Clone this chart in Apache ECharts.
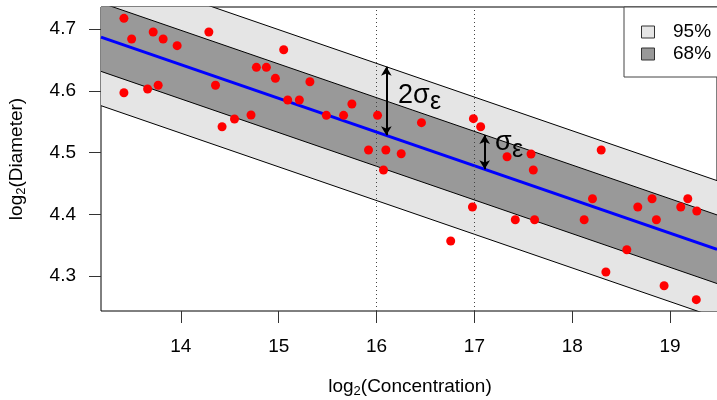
<!DOCTYPE html>
<html>
<head>
<meta charset="utf-8">
<script src="https://cdn.jsdelivr.net/npm/echarts@6/dist/echarts.min.js"></script>
<style>
html,body{margin:0;padding:0;background:#fff;}
#chart{width:717px;height:400px;}
</style>
</head>
<body>
<div id="chart"></div>
<script>
// ---- data ----
var concentration = [13.418,13.497,13.717,13.819,13.962,14.286,13.418,13.660,13.768,14.354,
  14.421,14.548,14.717,15.051,14.772,14.874,14.966,15.319,15.092,15.211,
  15.487,15.663,15.748,16.010,15.918,16.095,16.252,16.071,16.459,16.990,
  17.064,17.334,17.579,18.296,17.602,16.980,16.758,17.418,17.615,18.122,
  18.207,18.670,18.816,19.109,19.181,19.273,18.860,18.558,18.344,18.939,19.268];
var diameter = [4.7173,4.6838,4.6951,4.6838,4.6730,4.6951,4.5969,4.6029,4.6089,4.6089,
  4.5419,4.5544,4.5608,4.6665,4.6380,4.6380,4.6202,4.6147,4.5851,4.5851,
  4.5603,4.5603,4.5786,4.5603,4.5042,4.5042,4.4982,4.4718,4.5484,4.5549,
  4.5419,4.4933,4.4977,4.5042,4.4718,4.4120,4.3570,4.3914,4.3914,4.3914,
  4.4254,4.4120,4.4254,4.4120,4.4254,4.4055,4.3914,4.3429,4.3068,4.2846,4.2620];
var fitIntercept = 5.4057;
var fitSlope = -0.05452;
var sigma = 0.0555;
var xTicks = [14,15,16,17,18,19];
var yTicks = [4.3,4.4,4.5,4.6,4.7];
var refX = [16,17];
var arrowX = [16.1, 17.105];
var arrowK = [2, 1];
var bandK = [2, 1];
var bandNames = ['95%','68%'];
var bandColors = ['#E5E5E5','#999999'];
var xRange = [13.1837, 19.4796];
var yRange = [4.2437, 4.7356];

function yhat(x){ return fitIntercept + fitSlope * x; }

var FONT = 'Liberation Sans, Arial, sans-serif';
var points = concentration.map(function(c,i){ return [c, diameter[i]]; });

var series = [];
// bands (polygons)
series.push({
  type:'custom', z:1, clip:true, silent:true,
  data: bandK.map(function(k,i){ return [xRange[0], xRange[1], k, i]; }),
  renderItem: function(params, api){
    var x0 = api.value(0), x1 = api.value(1), k = api.value(2), idx = api.value(3);
    var pts = [
      api.coord([x0, yhat(x0) + k*sigma]),
      api.coord([x1, yhat(x1) + k*sigma]),
      api.coord([x1, yhat(x1) - k*sigma]),
      api.coord([x0, yhat(x0) - k*sigma])
    ];
    return { type:'polygon', shape:{points:pts}, style:{fill: bandColors[idx], stroke:'none'} };
  }
});
// band boundary lines
[2,1,-1,-2].forEach(function(k){
  series.push({
    type:'line', z:2, silent:true, symbol:'none', clip:true,
    lineStyle:{color:'#000', width:1},
    data: xRange.map(function(x){ return [x, yhat(x) + k*sigma]; })
  });
});
// reference dotted lines
series.push({
  type:'line', z:3, silent:true, symbol:'none', data:[],
  markLine:{ silent:true, symbol:['none','none'], label:{show:false},
    lineStyle:{color:'#444', width:1, type:[1,3]},
    data: refX.map(function(v){ return {xAxis:v}; }) }
});
// regression line
series.push({
  type:'line', z:4, silent:true, symbol:'none', clip:true,
  lineStyle:{color:'#0000FF', width:3},
  data: xRange.map(function(x){ return [x, yhat(x)]; })
});
// points
series.push({
  type:'scatter', z:5, silent:true, symbol:'circle', symbolSize:9,
  itemStyle:{color:'#FF0000', opacity:1}, data: points
});
// arrows
series.push({
  type:'line', z:6, silent:true, symbol:'none', data:[],
  markLine:{ silent:true, symbol:['arrow','arrow'], symbolSize:[8,9], label:{show:false},
    lineStyle:{color:'#000', width:2, type:'solid'},
    data: arrowX.map(function(x,i){
      return [{coord:[x, yhat(x)]},{coord:[x, yhat(x) + arrowK[i]*sigma]}];
    }) }
});

var chart = echarts.init(document.getElementById('chart'), null, {renderer:'canvas'});
chart.setOption({
  animation:false,
  backgroundColor:'#fff',
  grid:{left:101, top:7, width:617, height:304, show:true, borderColor:'#000', borderWidth:1, backgroundColor:'#fff'},
  xAxis:{
    type:'value', min:xRange[0], max:xRange[1],
    axisLine:{show:false}, splitLine:{show:false},
    axisTick:{show:true, length:12, customValues:xTicks, lineStyle:{color:'#333'}},
    axisLabel:{customValues:xTicks, margin:26, fontSize:19, color:'#000', fontFamily:FONT}
  },
  yAxis:{
    type:'value', min:yRange[0], max:yRange[1],
    axisLine:{show:false}, splitLine:{show:false},
    axisTick:{show:true, length:12, customValues:yTicks, lineStyle:{color:'#333'}},
    axisLabel:{customValues:yTicks, margin:25, fontSize:19, color:'#000', fontFamily:FONT,
      formatter:function(v){ return v.toFixed(1); }}
  },
  series: series,
  graphic:[
    // legend
    {type:'rect', z:100, shape:{x:624, y:7, width:100, height:70}, style:{fill:'#fff', stroke:'#444', lineWidth:1}},
    {type:'rect', z:101, shape:{x:641.5, y:26, width:13, height:12}, style:{fill:bandColors[0], stroke:'#333', lineWidth:1}},
    {type:'rect', z:101, shape:{x:641.5, y:48, width:13, height:12}, style:{fill:bandColors[1], stroke:'#333', lineWidth:1}},
    {type:'text', z:101, x:673, y:32, style:{text:bandNames[0], fontSize:19, fontFamily:FONT, fill:'#000', verticalAlign:'middle'}},
    {type:'text', z:101, x:673, y:54, style:{text:bandNames[1], fontSize:19, fontFamily:FONT, fill:'#000', verticalAlign:'middle'}},
    // annotations
    {type:'text', z:101, x:398, y:96, style:{text:'2σ', fontSize:27, fontFamily:FONT, fill:'#000', verticalAlign:'middle'}},
    {type:'text', z:101, x:430, y:102, style:{text:'ε', fontSize:25, fontFamily:FONT, fill:'#000', verticalAlign:'middle'}},
    {type:'text', z:101, x:495, y:143, style:{text:'σ', fontSize:27, fontFamily:FONT, fill:'#000', verticalAlign:'middle'}},
    {type:'text', z:101, x:512, y:150, style:{text:'ε', fontSize:25, fontFamily:FONT, fill:'#000', verticalAlign:'middle'}},
    // axis titles
    {type:'text', z:101, x:410, y:387, style:{
      text:'{a|log}{s|2}{a|(Concentration)}', align:'center', verticalAlign:'middle',
      rich:{a:{fontSize:19, fontFamily:FONT, fill:'#000', color:'#000'},
            s:{fontSize:13, fontFamily:FONT, color:'#000', padding:[8,0,0,0]}}}},
    {type:'text', z:101, x:17, y:159, rotation:Math.PI/2, style:{
      text:'{a|log}{s|2}{a|(Diameter)}', align:'center', verticalAlign:'middle',
      rich:{a:{fontSize:19, fontFamily:FONT, color:'#000'},
            s:{fontSize:13, fontFamily:FONT, color:'#000', padding:[8,0,0,0]}}}}
  ]
});
</script>
</body>
</html>
